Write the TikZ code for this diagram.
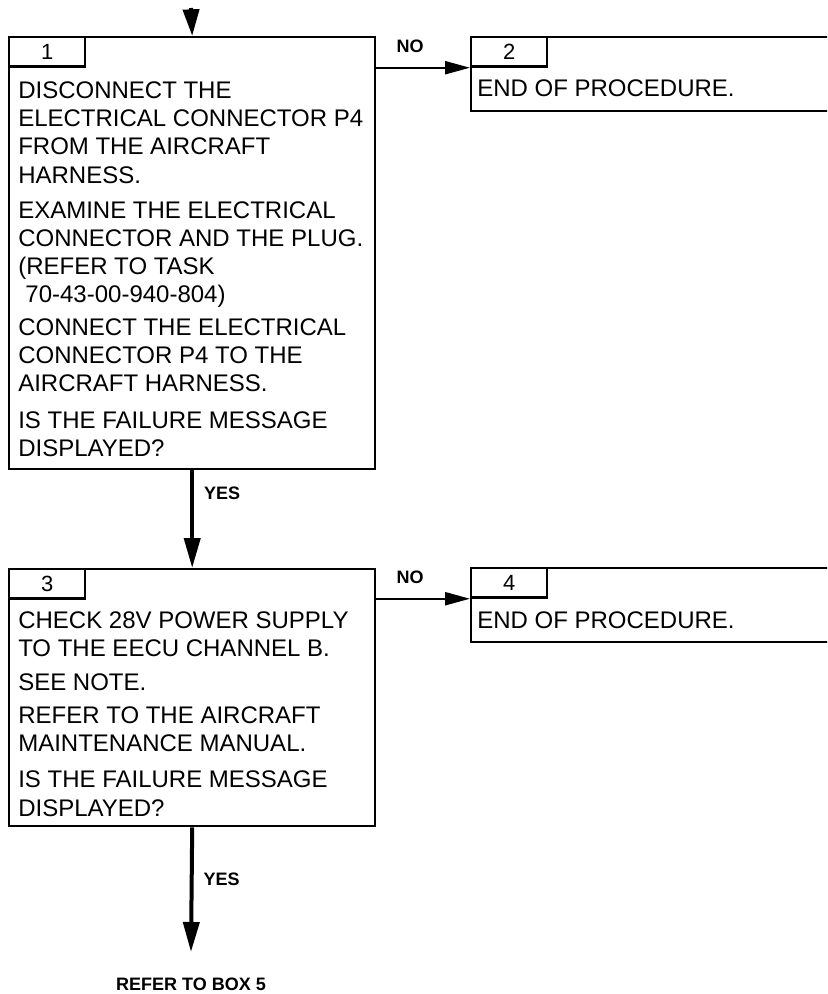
\documentclass[tikz,border=0pt]{standalone}
\usepackage{fontspec}
\setmainfont{Liberation Sans}
\usetikzlibrary{positioning, arrows.meta, calc}

\begin{document}
\begin{tikzpicture}[
        x=0.75pt, y=-0.75pt,
        % Estilo para las cajas de paso
        stepbox/.style={
            draw=black,
            line width=1.8pt,
            rectangle,
            anchor=north west,
            inner sep=0pt,
            minimum width=274.5pt
        },
        % Estilo para la pestaña con el número
        tabbox/.style={
            draw=black,
            line width=1.8pt,
            rectangle,
            anchor=north west,
            inner sep=0pt,
            minimum width=57pt,
            minimum height=22pt,
            font=\fontsize{16.5}{18}\selectfont
        },
        % Estilo para el texto de cada caja
        steptext/.style={
            anchor=north west,
            inner sep=0pt,
            align=left,
            font=\fontsize{18}{21.2}\selectfont
        },
        % Estilo para etiquetas y flechas
        answer/.style={inner sep=0pt, font=\fontsize{13.5}{16}\selectfont\bfseries},
        toparrow/.style={-{Triangle[length=20pt, width=12pt]}, line width=3pt},
        yesarrow/.style={-{Triangle[length=22.5pt, width=12pt]}, line width=3pt},
        noarrow/.style={-{Triangle[length=18.75pt, width=9.75pt]}, line width=1.7pt}
    ]

        \useasboundingbox (0,0) rectangle (827,994);
        \clip (0,0) rectangle (827,994);

        % 1. Caja 1
        \node[stepbox, minimum height=324pt] (box1) at (8,36) {};
        \node[tabbox] (tab1) at (box1.north west) {1};
        \node[steptext] (txt1) at (18,81.4) {DISCONNECT THE\\
            ELECTRICAL CONNECTOR P4\\
            FROM THE AIRCRAFT\\
            HARNESS.\\[5pt]
            EXAMINE THE ELECTRICAL\\
            CONNECTOR AND THE PLUG.\\
            (REFER TO TASK\\
            \hspace*{0.3em}70-43-00-940-804)\\[3pt]
            CONNECT THE ELECTRICAL\\
            CONNECTOR P4 TO THE\\
            AIRCRAFT HARNESS.\\[6.5pt]
            IS THE FAILURE MESSAGE\\
            DISPLAYED?};

        % 2. Caja 2 (abierta a la derecha)
        \node[stepbox, minimum width=285pt, minimum height=55.5pt] (box2) at (470,36) {};
        \node[tabbox] (tab2) at (box2.north west) {2};
        \node[steptext] (txt2) at (477,79.4) {END OF PROCEDURE.};

        % 3. Caja 3
        \node[stepbox, minimum height=192.75pt] (box3) at (8,568) {};
        \node[tabbox] (tab3) at (box3.north west) {3};
        \node[steptext] (txt3) at (18,611.4) {CHECK 28V POWER SUPPLY\\
            TO THE EECU CHANNEL B.\\[4pt]
            SEE NOTE.\\[3.5pt]
            REFER TO THE AIRCRAFT\\
            MAINTENANCE MANUAL.\\[6pt]
            IS THE FAILURE MESSAGE\\
            DISPLAYED?};

        % 4. Caja 4
        \node[stepbox, minimum width=285pt, minimum height=55.5pt] (box4) at (470,567) {};
        \node[tabbox] (tab4) at (box4.north west) {4};
        \node[steptext] (txt4) at (477,611) {END OF PROCEDURE.};

        % Referencia final
        \node[answer] (ref5) at (191,984) {REFER TO BOX 5};

        % Flechas y Conexiones
        \coordinate (entry) at (191,8);
        \coordinate (exit) at (191,952);

        \draw[toparrow] (entry) -- (box1.north);
        \draw[yesarrow] (box1.south) -- node[answer, right=7.5pt, pos=0.23] {YES} (box3.north);
        \draw[yesarrow] (box3.south) -- node[answer, right=7.5pt, pos=0.42] {YES} (exit);

        \draw[noarrow] (box1.east |- tab2.south) -- node[answer, above=10.5pt, pos=0.36] {NO} (box2.west |- tab2.south);
        \draw[noarrow] (box3.east |- tab4.south) -- node[answer, above=10.5pt, pos=0.36] {NO} (box4.west |- tab4.south);

    \end{tikzpicture}
\end{document}
